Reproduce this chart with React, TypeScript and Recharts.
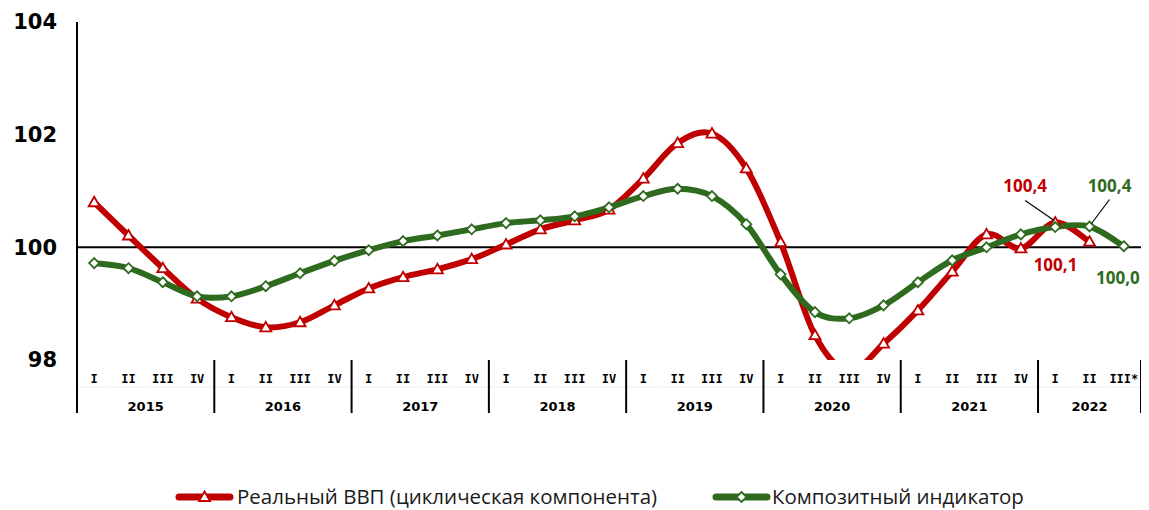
import { LabelList, Legend, Line, LineChart, ReferenceLine, XAxis, YAxis } from "recharts";

const quarterLabels = [
  "I", "II", "III", "IV",
  "I", "II", "III", "IV",
  "I", "II", "III", "IV",
  "I", "II", "III", "IV",
  "I", "II", "III", "IV",
  "I", "II", "III", "IV",
  "I", "II", "III", "IV",
  "I", "II", "III*",
];
const yearLabels = ["2015", "2016", "2017", "2018", "2019", "2020", "2021", "2022"];
const quartersPerYear = [4, 4, 4, 4, 4, 4, 4, 3];

// реальный ВВП, циклическая компонента
const gdpCycle = [
  100.8, 100.21, 99.63, 99.09,
  98.76, 98.58, 98.67, 98.97,
  99.27, 99.47, 99.61, 99.79,
  100.05, 100.32, 100.48, 100.67,
  101.22, 101.85, 102.02, 101.4,
  100.09, 98.44, 97.8, 98.29,
  98.88, 99.57, 100.23, 99.98,
  100.44, 100.1, null,
];
// композитный индикатор
const composite = [
  99.72, 99.63, 99.38, 99.13,
  99.13, 99.31, 99.54, 99.76,
  99.95, 100.11, 100.21, 100.32,
  100.43, 100.48, 100.55, 100.71,
  100.91, 101.04, 100.91, 100.41,
  99.52, 98.85, 98.74, 98.97,
  99.38, 99.77, 100.0, 100.23,
  100.36, 100.37, 100.02,
];
const yTicks = [98, 100, 102, 104];

const RED = "#C00000";
const GREEN = "#2E6B1E";

// year start index for each category
const yearStart: Record<number, number> = {};
{
  let k = 0;
  quartersPerYear.forEach((n, yi) => {
    yearStart[k] = yi;
    k += n;
  });
}

const data = quarterLabels.map((q, i) => ({
  key: `${i}`,
  q,
  gdp: gdpCycle[i],
  comp: composite[i],
}));

// excel-like smoothing (catmull-rom through the points)
const smoothCurve = (context: any) => {
  let pts: number[][] = [];
  return {
    areaStart() {},
    areaEnd() {},
    lineStart() {
      pts = [];
    },
    point(x: number, y: number) {
      pts.push([+x, +y]);
    },
    lineEnd() {
      if (!pts.length) return;
      context.moveTo(pts[0][0], pts[0][1]);
      for (let i = 0; i < pts.length - 1; i++) {
        const p0 = pts[i - 1] || pts[i];
        const p1 = pts[i];
        const p2 = pts[i + 1];
        const p3 = pts[i + 2] || p2;
        context.bezierCurveTo(
          p1[0] + (p2[0] - p0[0]) / 6,
          p1[1] + (p2[1] - p0[1]) / 6,
          p2[0] - (p3[0] - p1[0]) / 6,
          p2[1] - (p3[1] - p1[1]) / 6,
          p2[0],
          p2[1]
        );
      }
    },
  };
};

const TriangleDot = (props: any) => {
  const { cx, cy, index } = props;
  if (cx == null || cy == null) return <g key={`t${index}`} />;
  return (
    <path
      key={`t${index}`}
      d={`M${cx},${cy - 5.5} L${cx + 5.5},${cy + 4} L${cx - 5.5},${cy + 4} Z`}
      fill="#fff"
      stroke={RED}
      strokeWidth={1.8}
    />
  );
};

const DiamondDot = (props: any) => {
  const { cx, cy, index } = props;
  if (cx == null || cy == null) return <g key={`d${index}`} />;
  return (
    <path
      key={`d${index}`}
      d={`M${cx},${cy - 5} L${cx + 5},${cy} L${cx},${cy + 5} L${cx - 5},${cy} Z`}
      fill="#fff"
      stroke={GREEN}
      strokeWidth={1.8}
    />
  );
};

const fmt = (v: number) => v.toFixed(1).replace(".", ",");

const labelStyle = { fontFamily: "'Open Sans', sans-serif", fontWeight: 700, fontSize: 17 };

const GdpLabel = (props: any) => {
  const { x, y, value, index } = props;
  if (index === 28) {
    return (
      <g>
        <line x1={x - 30} y1={y - 22} x2={x - 1} y2={y - 2} stroke="#000" strokeWidth={1.2} />
        <text x={x - 30} y={y - 37} textAnchor="middle" dominantBaseline="central" fill={RED} style={labelStyle}>
          {fmt(value)}
        </text>
      </g>
    );
  }
  if (index === 29) {
    return (
      <text x={x - 34} y={y + 23} textAnchor="middle" dominantBaseline="central" fill={RED} style={labelStyle}>
        {fmt(value)}
      </text>
    );
  }
  return null;
};

const CompLabel = (props: any) => {
  const { x, y, value, index } = props;
  if (index === 29) {
    return (
      <g>
        <line x1={x + 20} y1={y - 27} x2={x + 2} y2={y - 3} stroke="#000" strokeWidth={1.2} />
        <text x={x + 20} y={y - 41} textAnchor="middle" dominantBaseline="central" fill={GREEN} style={labelStyle}>
          {fmt(value)}
        </text>
      </g>
    );
  }
  if (index === 30) {
    return (
      <text x={x - 6} y={y + 31} textAnchor="middle" dominantBaseline="central" fill={GREEN} style={labelStyle}>
        {fmt(value)}
      </text>
    );
  }
  return null;
};

const CategoryTick = (props: any) => {
  const { x, y, payload, width, visibleTicksCount } = props;
  const i = payload.index;
  const half = width / visibleTicksCount / 2;
  const yi = yearStart[i];
  const last = i === quarterLabels.length - 1;
  return (
    <g>
      <line x1={x - half} x2={x + half} y1={y + 27} y2={y + 27} stroke="#ececec" strokeWidth={1} />
      <text
        x={x}
        y={y + 19}
        textAnchor="middle"
        dominantBaseline="central"
        fill="#000"
        style={{ fontFamily: "'DejaVu Sans Mono', monospace", fontWeight: 700, fontSize: 12 }}
      >
        {quarterLabels[i]}
      </text>
      {yi !== undefined && (
        <>
          <line x1={x - half} x2={x - half} y1={y} y2={y + 53} stroke="#000" strokeWidth={2} />
          <text
            x={x - half + quartersPerYear[yi] * half}
            y={y + 46}
            textAnchor="middle"
            dominantBaseline="central"
            fill="#000"
            style={{ fontFamily: "'DejaVu Sans', sans-serif", fontWeight: 700, fontSize: 13 }}
          >
            {yearLabels[yi]}
          </text>
        </>
      )}
      {last && <line x1={x + half} x2={x + half} y1={y} y2={y + 53} stroke="#000" strokeWidth={2} />}
    </g>
  );
};

const legendSpots: Record<string, { icon: number; text: number }> = {
  gdp: { icon: 167, text: 229 },
  comp: { icon: 704, text: 764 },
};

const LegendContent = (props: any) => {
  const items = props.payload || [];
  return (
    <div style={{ position: "relative", height: 88, width: "100%" }}>
      {items.map((it: any) => {
        const s = legendSpots[it.dataKey] || legendSpots.gdp;
        const red = it.dataKey === "gdp";
        return (
          <div key={it.value} style={{ position: "absolute", left: s.icon, top: 60, height: 28 }}>
            <svg width={60} height={28} style={{ position: "absolute", left: 0, top: 0 }}>
              <line x1={4} x2={55} y1={15} y2={15} stroke={it.color} strokeWidth={7} strokeLinecap="round" />
              {red ? (
                <path d="M29.5,9.5 L35,19 L24,19 Z" fill="#fff" stroke={RED} strokeWidth={1.8} />
              ) : (
                <path d="M29.5,10 L34.5,15 L29.5,20 L24.5,15 Z" fill="#fff" stroke={GREEN} strokeWidth={1.8} />
              )}
            </svg>
            <span
              style={{
                position: "absolute",
                left: s.text - s.icon,
                top: 0,
                height: 28,
                lineHeight: "28px",
                whiteSpace: "nowrap",
                fontFamily: "'Open Sans', sans-serif",
                fontSize: 20.5,
                color: "#1a1a1a",
              }}
            >
              {it.value}
            </span>
          </div>
        );
      })}
    </div>
  );
};

export default function App() {
  return (
    <div style={{ width: 1141, height: 502, background: "#fff" }}>
      <LineChart width={1141} height={502} data={data} margin={{ top: 14, right: 8, left: 0, bottom: 0 }}>
        <XAxis
          dataKey="key"
          scale="band"
          height={62}
          interval={0}
          axisLine={false}
          tickLine={false}
          tickSize={0}
          tickMargin={0}
          tick={<CategoryTick />}
        />
        <YAxis
          width={69}
          domain={[98, 104]}
          ticks={yTicks}
          allowDataOverflow
          axisLine={{ stroke: "#000", strokeWidth: 2 }}
          tickLine={false}
          tickSize={0}
          tickMargin={20}
          tick={{ fill: "#000", fontSize: 21, fontWeight: 700, fontFamily: "'DejaVu Sans', sans-serif" }}
        />
        <ReferenceLine y={100} stroke="#000" strokeWidth={2} />
        <Legend verticalAlign="bottom" content={<LegendContent />} />
        <Line
          name="Реальный ВВП (циклическая компонента)"
          dataKey="gdp"
          type={smoothCurve as any}
          stroke={RED}
          strokeWidth={6}
          dot={TriangleDot}
          activeDot={false}
          isAnimationActive={false}
        >
          <LabelList dataKey="gdp" content={<GdpLabel />} />
        </Line>
        <Line
          name="Композитный индикатор"
          dataKey="comp"
          type={smoothCurve as any}
          stroke={GREEN}
          strokeWidth={6}
          dot={DiamondDot}
          activeDot={false}
          isAnimationActive={false}
        >
          <LabelList dataKey="comp" content={<CompLabel />} />
        </Line>
      </LineChart>
    </div>
  );
}
